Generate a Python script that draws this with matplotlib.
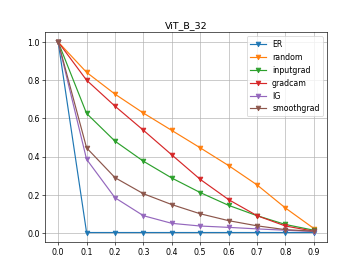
import numpy as np
import matplotlib
matplotlib.use("Agg")
import matplotlib.pyplot as plt

# fraction of removed patches
ratios = [0.0, 0.1, 0.2, 0.3, 0.4, 0.5, 0.6, 0.7, 0.8, 0.9]

er = [1.0, 0.003, 0.003, 0.003, 0.003, 0.003, 0.003, 0.003, 0.003, 0.003]
random_ = [1.0, 0.841, 0.727, 0.628, 0.537, 0.446, 0.353, 0.252, 0.131, 0.024]
inputgrad = [1.0, 0.626, 0.481, 0.376, 0.288, 0.212, 0.145, 0.091, 0.045, 0.015]
gradcam = [1.0, 0.80, 0.664, 0.538, 0.409, 0.281, 0.175, 0.091, 0.037, 0.010]
ig = [1.0, 0.386, 0.185, 0.091, 0.051, 0.037, 0.030, 0.022, 0.015, 0.008]
smoothgrad = [1.0, 0.446, 0.290, 0.206, 0.149, 0.101, 0.065, 0.038, 0.018, 0.010]

fig = plt.figure(figsize=(6.4, 4.8), dpi=363 / 6.4)

plt.plot(ratios, er, marker="v", label="ER")
plt.plot(ratios, random_, marker="v", label="random")
plt.plot(ratios, inputgrad, marker="v", label="inputgrad")
plt.plot(ratios, gradcam, marker="v", label="gradcam")
plt.plot(ratios, ig, marker="v", label="IG")
plt.plot(ratios, smoothgrad, marker="v", label="smoothgrad")

plt.xticks(ratios)
plt.title("ViT_B_32")
plt.grid()
plt.legend(loc="upper right")
plt.savefig("out.png", dpi=363 / 6.4)
